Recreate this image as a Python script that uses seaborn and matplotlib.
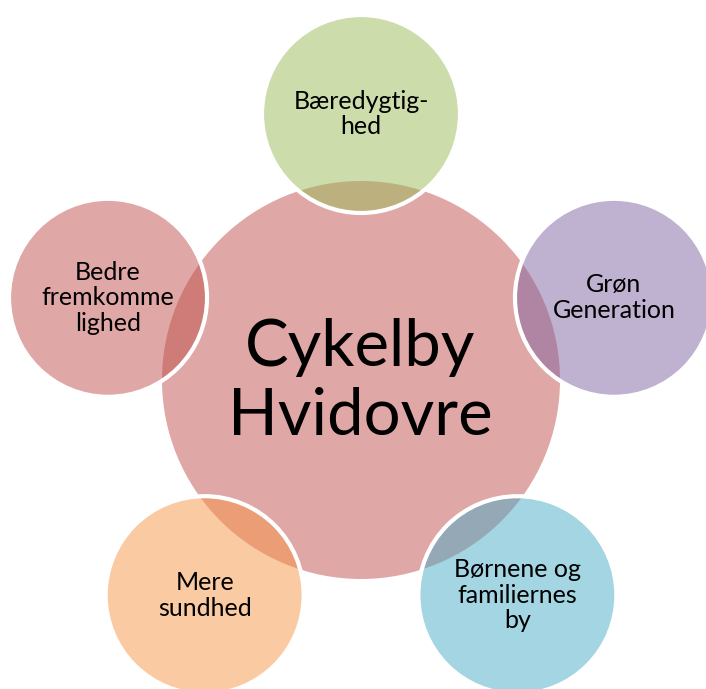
import numpy as np
import seaborn as sns
import matplotlib.pyplot as plt
from matplotlib.patches import Circle
from matplotlib.colors import to_rgba

# centre node and the five satellite nodes (clockwise from the top)
center_label = "Cykelby\nHvidovre"
center_color = "#C0504D"
labels = ["Bæredygtig-\nhed", "Grøn\nGeneration", "Børnene og\nfamiliernes\nby",
          "Mere\nsundhed", "Bedre\nfremkomme\nlighed"]
colors = ["#9BBB59", "#8064A2", "#4BACC6", "#F79646", "#C0504D"]

sns.set_style("white")
plt.rcParams['font.family'] = ['Lato', 'DejaVu Sans']

fig = plt.figure(figsize=(7.06, 6.89), dpi=100)
ax = fig.add_axes([0, 0, 1, 1])
ax.set_xlim(0, 706)
ax.set_ylim(689, 0)
ax.set_aspect('equal')
ax.axis('off')

cx, cy, ring = 361, 380, 266
ax.add_patch(Circle((cx, cy), 199, facecolor=to_rgba(center_color, 0.5),
                    edgecolor='none', zorder=1))
ax.text(cx - 1, cy + 2, center_label, ha='center', va='center', fontsize=47,
        linespacing=1.2, color='black', zorder=5)

for i, (lab, col) in enumerate(zip(labels, colors)):
    ang = np.deg2rad(90 - i * 72)
    x = cx + ring * np.cos(ang)
    y = cy - ring * np.sin(ang)
    ax.add_patch(Circle((x, y), 99, facecolor=to_rgba(col, 0.5),
                        edgecolor='white', linewidth=3, zorder=2 + i * 0.1))
    ax.text(x, y, lab, ha='center', va='center', fontsize=18,
            linespacing=1.14, color='black', zorder=5)

fig.savefig("out.png", dpi=100)
